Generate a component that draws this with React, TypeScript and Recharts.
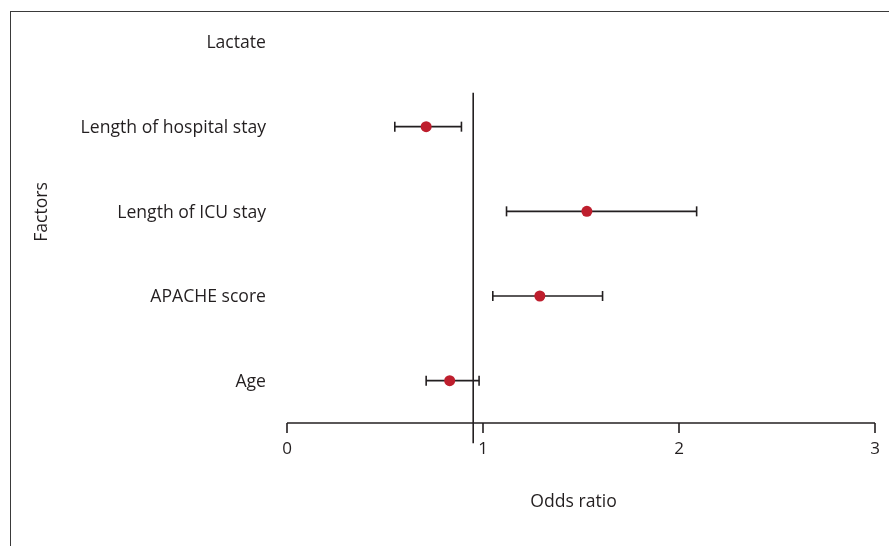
import React from 'react';
import {
  ScatterChart,
  Scatter,
  XAxis,
  YAxis,
  ErrorBar,
  ReferenceLine,
  Label,
} from 'recharts';

// Rows bottom -> top
const factors = ['Age', 'APACHE score', 'Length of ICU stay', 'Length of hospital stay', 'Lactate'];
const oddsRatio: (number | null)[] = [0.83, 1.29, 1.53, 0.71, null];
const ciLow: (number | null)[] = [0.71, 1.05, 1.12, 0.55, null];
const ciHigh: (number | null)[] = [0.98, 1.61, 2.09, 0.89, null];
const xTicks = [0, 1, 2, 3];
const referenceOR = 0.95;

const TEXT = '#231f20';
const DOT = '#be1e2d';
const FONT = '"Open Sans", "Noto Sans", sans-serif';
const FS = 17.6;

const data = factors
  .map((f, i) => ({
    factor: f,
    row: i,
    or: oddsRatio[i],
    err: oddsRatio[i] == null ? null : [(oddsRatio[i] as number) - (ciLow[i] as number), (ciHigh[i] as number) - (oddsRatio[i] as number)],
  }))
  .filter((d) => d.or != null);

const Dot = (props: any) => {
  const { cx, cy } = props;
  if (cx == null || cy == null) return null;
  return <circle cx={cx} cy={cy} r={5.5} fill={DOT} />;
};

export default function App() {
  return (
    <div style={{ position: 'relative', width: 881, height: 530, fontFamily: FONT }}>
      <div
        style={{
          position: 'fixed',
          left: 10,
          top: 11,
          width: 879,
          height: 540,
          borderTop: '1.5px solid #3a3a3a',
          borderLeft: '1.5px solid #3a3a3a',
          pointerEvents: 'none',
        }}
      />
      <ScatterChart width={881} height={530} margin={{ top: 34, right: 14, bottom: 15, left: 0 }}>
        <XAxis
          type="number"
          dataKey="or"
          domain={[0, 3]}
          ticks={xTicks}
          allowDataOverflow
          height={100}
          tickSize={10}
          tickMargin={9}
          stroke={TEXT}
          strokeWidth={1.6}
          tick={{ fill: TEXT, fontSize: 17, fontFamily: FONT }}
        >
          <Label
            content={(p: any) => {
              const vb = p.viewBox || { x: 279, y: 415 };
              return (
                <text
                  x={vb.x + 286.5}
                  y={vb.y + 84}
                  textAnchor="middle"
                  fill={TEXT}
                  fontSize={FS}
                  fontFamily={FONT}
                >
                  Odds ratio
                </text>
              );
            }}
          />
        </XAxis>
        <YAxis
          type="number"
          dataKey="row"
          domain={[-0.5, 4]}
          ticks={[0, 1, 2, 3, 4]}
          allowDataOverflow
          width={279}
          axisLine={false}
          tickLine={false}
          tickSize={6}
          tickMargin={15}
          tickFormatter={(v: number) => factors[v] ?? ''}
          tick={{ fill: TEXT, fontSize: FS, fontFamily: FONT }}
        >
          <Label
            content={(p: any) => {
              const vb = p.viewBox || { x: 0, y: 34 };
              const x = vb.x + 32;
              const y = 204;
              return (
                <text
                  x={x}
                  y={y}
                  transform={`rotate(-90, ${x}, ${y})`}
                  textAnchor="middle"
                  dominantBaseline="central"
                  fill={TEXT}
                  fontSize={FS}
                  fontFamily={FONT}
                >
                  Factors
                </text>
              );
            }}
          />
        </YAxis>
        <ReferenceLine
          segment={[
            { x: referenceOR, y: -0.74 },
            { x: referenceOR, y: 3.4 },
          ]}
          stroke={TEXT}
          strokeWidth={1.6}
          ifOverflow="visible"
        />
        <Scatter data={data} isAnimationActive={false} shape={<Dot />}>
          <ErrorBar dataKey="err" direction="x" width={5} stroke={TEXT} strokeWidth={1.6} />
        </Scatter>
      </ScatterChart>
    </div>
  );
}
